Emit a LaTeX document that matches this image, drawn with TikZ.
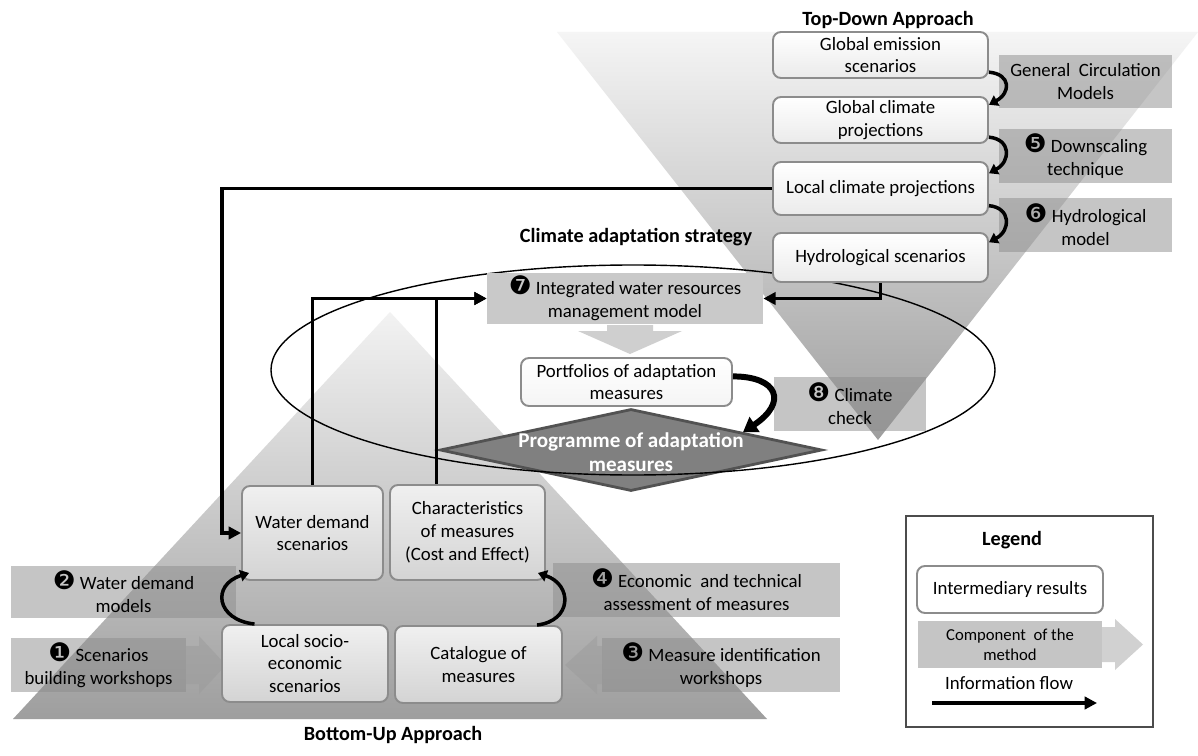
\documentclass[tikz,border=0pt]{standalone}
\usepackage{fontspec}
\setmainfont{Carlito}
\newfontfamily\dingfont{DejaVu Sans}
\usetikzlibrary{arrows.meta,shapes.geometric,positioning}

\newcommand{\dnum}[1]{{\dingfont\fontsize{14.5}{13}\selectfont #1}}

\tikzset{
 res/.style={draw=black!45, line width=1.1pt, rounded corners=1.6mm, align=center, inner sep=0pt, top color=white, bottom color=black!8},
 resb/.style={res, top color=black!6, bottom color=black!17},
 comp/.style={fill=black!45, fill opacity=0.5, text opacity=1, align=center, inner sep=0pt},
 comparrow/.style={fill=black!40, fill opacity=0.45},
 flow/.style={line width=2pt, -{Triangle[length=7pt,width=7pt]}},
 curvarrow/.style={line width=2pt, -{Triangle[length=5pt,width=6.5pt]}},
 ttl/.style={font=\bfseries\fontsize{11.5}{14}\selectfont},
}

\begin{document}
\begin{tikzpicture}[x=0.2mm, y=-0.2mm, font=\fontsize{10.7}{13}\selectfont]
 \fill[white] (0,0) rectangle (1198,756);
 \useasboundingbox (0,0) rectangle (1198,756);

 % approaches
 \shade[top color=black!5, middle color=black!17, bottom color=black!38] (13,719) -- (390,312) -- (767,719) -- cycle;
 \shade[top color=black!4, middle color=black!15, bottom color=black!38] (557,32) -- (1198,32) -- (878,440) -- cycle;
 \node[ttl] (tdt) at (888,20) {Top-Down Approach};
 \node[ttl] (but) at (393,735) {Bottom-Up Approach};

 % components (top-down)
 \node[comp, minimum width=34.6mm, minimum height=10.6mm] (gcm) at (1085.5,81.5) {General\ \ Circulation\\Models};
 \node[comp, minimum width=34.6mm, minimum height=10.8mm] (ds) at (1085.5,156) {\dnum{❺} Downscaling\\technique};
 \node[comp, minimum width=34.6mm, minimum height=10.8mm] (hm) at (1085.5,225) {\dnum{❻} Hydrological\\model};

 % components (bottom-up)
 \fill[comparrow] (186,646) -- (199,646) -- (199,636) -- (226,665) -- (199,694) -- (199,684) -- (186,684) -- cycle;
 \fill[comparrow] (602,646) -- (597,646) -- (597,636) -- (565,665) -- (597,694) -- (597,684) -- (602,684) -- cycle;
 \node[comp, minimum width=45mm, minimum height=10.4mm] (wdm) at (123.5,592) {\dnum{❷} Water demand\\models};
 \node[comp, minimum width=57.4mm, minimum height=10.8mm] (eco) at (696.5,590) {\dnum{❹} Economic\ \ and technical\\assessment of measures};
 \node[comp, minimum width=35mm, minimum height=10.8mm] (sbw) at (98.5,665) {\dnum{❶} Scenarios\\building workshops};
 \node[comp, minimum width=47.6mm, minimum height=10.8mm] (mid) at (721,665) {\dnum{❸} Measure identification\\workshops};

 % strategy
 \node[diamond, fill=black!50, draw=black!68, line width=1.6pt, minimum width=76.4mm, minimum height=16.4mm, inner sep=0pt] (pg) at (631,450) {};
 \node[text=white, font=\bfseries\fontsize{12}{13.5}\selectfont, align=center] (pgt) at (631,452) {Programme of adaptation\\measures};
 \node[ellipse, draw, line width=0.8pt, minimum width=144.8mm, minimum height=42mm, inner sep=0pt] (strat) at (633,370) {};
 \node[ttl] (stt) at (636,237) {Climate adaptation strategy};
 \node[comp, fill=black!21, fill opacity=1, minimum width=55.2mm, minimum height=10.2mm] (iw) at (625,298.5) {\dnum{❼} Integrated water resources\\management model};
 \fill[black!19] (607,325) -- (653,325) -- (653,331) -- (682,331) -- (630,354) -- (578,331) -- (607,331) -- cycle;
 \node[res, bottom color=black!4, minimum width=42.2mm, minimum height=9.6mm] (pf) at (626.5,382) {Portfolios of adaptation\\measures};
 \node[comp, minimum width=30.4mm, minimum height=10.8mm] (cc) at (850,404) {\dnum{❽} Climate\\check};

 % intermediary results (top-down)
 \node[res, minimum width=43mm, minimum height=9.2mm] (ge) at (880.5,55) {Global emission\\scenarios};
 \node[res, minimum width=43mm, minimum height=9.2mm] (gc) at (880.5,120) {Global climate\\projections};
 \node[res, minimum width=43mm, minimum height=10.6mm] (lc) at (880.5,188.5) {Local climate projections};
 \node[res, minimum width=43mm, minimum height=9.8mm] (hs) at (880.5,257.5) {Hydrological scenarios};

 % intermediary results (bottom-up)
 \node[resb, minimum width=28.2mm, minimum height=18.8mm] (wd) at (312.5,533) {Water demand\\scenarios};
 \node[resb, minimum width=31mm, minimum height=19mm] (cm) at (467.5,532.5) {Characteristics\\of measures\\(Cost and Effect)};
 \node[resb, minimum width=33.2mm, minimum height=15.4mm] (ls) at (305,663.5) {Local socio-\\economic\\scenarios};
 \node[resb, minimum width=33.4mm, minimum height=15.4mm] (ct) at (478.5,664.5) {Catalogue of\\measures};

 % information flow
 \coordinate (lcturn) at (222,188.5);
 \draw[flow] (lc.west) -- (lcturn) |- (wd.west);
 \draw[flow] (wd.north) |- (iw.west);
 \draw[flow] ([xshift=-6.2mm]cm.north) |- (iw.west);
 \draw[flow] (hs.south) |- (iw.east);

 % models
 \draw[curvarrow] (ge.-9) .. controls +(22,2) and +(22,-12) .. (gc.8);
 \draw[curvarrow] (gc.-9) .. controls +(22,2) and +(22,-12) .. (lc.8);
 \draw[curvarrow] (lc.-9) .. controls +(22,2) and +(22,-12) .. (hs.8);
 \draw[curvarrow] (ls.142) .. controls +(-38,-4) and +(-38,12) .. ([shift={(8,-8)}]wd.south west);
 \draw[curvarrow] (ct.34) .. controls +(35,-4) and +(35,12) .. ([shift={(-8,-8)}]cm.south east);
 \draw[line width=3.4pt, -{Triangle[length=8pt,width=10pt]}] (pf.3) .. controls +(45,0) and +(45,-30) .. (pg.9);

 % legend
 \node[draw=black!70, line width=0.6pt, fill=white, minimum width=49.4mm, minimum height=42.2mm] (lgd) at (1029.5,621.5) {};
 \node[ttl] (lgt) at (1012,540) {Legend};
 \node[res, bottom color=white, minimum width=37.2mm, minimum height=9.4mm] (lgr) at (1010,589.5) {Intermediary results};
 \fill[comparrow] (1102,627) -- (1115,627) -- (1115,619) -- (1143,644.5) -- (1115,670) -- (1115,662) -- (1102,662) -- cycle;
 \node[comp, font=\fontsize{9.5}{11.5}\selectfont, minimum width=36.8mm, minimum height=9.4mm] (lgc) at (1010,644.5) {Component\ \ of the\\method};
 \node (lgf) at (1009,683) {Information flow};
 \coordinate (lga) at (932,703);
 \coordinate (lgb) at (1097,703);
 \draw[flow] (lga) -- (lgb);
\end{tikzpicture}
\end{document}
